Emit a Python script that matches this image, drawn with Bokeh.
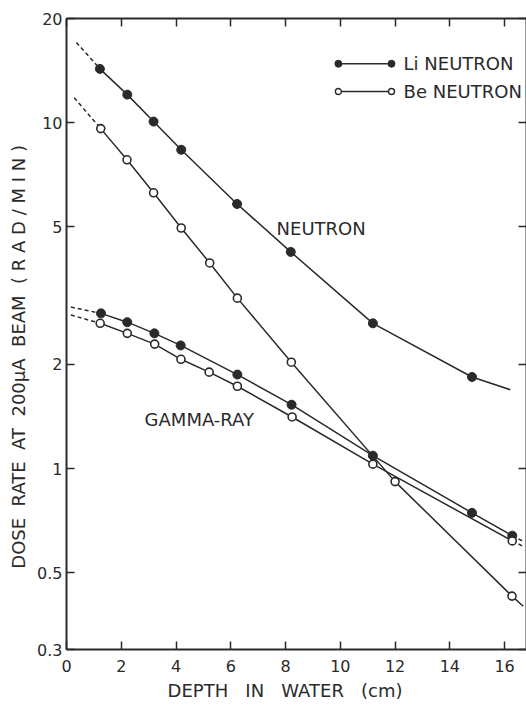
from bokeh.plotting import figure
from bokeh.models import Range1d, FixedTicker, LinearAxis, LogAxis, CustomJSTickFormatter, Label
from bokeh.embed import file_html
from bokeh.resources import INLINE

# ---- data (depth in cm, dose rate in rad/min) ----
li_n_x = [1.22, 2.22, 3.18, 4.19, 6.23, 8.19, 11.19, 14.81]
li_n_y = [14.3, 12.05, 10.07, 8.35, 5.82, 4.23, 2.63, 1.84]
li_n_head_x = [0.36, 1.22]
li_n_head_y = [17.06, 14.3]
li_n_tail_x = [14.81, 16.21]
li_n_tail_y = [1.84, 1.69]

be_n_x = [1.25, 2.21, 3.18, 4.19, 5.23, 6.24, 8.21, 12.0, 16.27]
be_n_y = [9.61, 7.81, 6.27, 4.96, 3.93, 3.11, 2.03, 0.917, 0.428]
be_n_head_x = [0.28, 1.25]
be_n_head_y = [11.8, 9.61]
be_n_tail_x = [16.27, 16.68]
be_n_tail_y = [0.428, 0.40]

li_g_x = [1.26, 2.22, 3.21, 4.17, 6.24, 8.22, 11.19, 14.81, 16.28]
li_g_y = [2.81, 2.65, 2.46, 2.27, 1.87, 1.53, 1.09, 0.745, 0.64]
li_g_head_x = [0.16, 1.26]
li_g_head_y = [2.93, 2.81]
li_g_tail_x = [16.28, 16.7]
li_g_tail_y = [0.64, 0.615]

be_g_x = [1.23, 2.22, 3.22, 4.18, 5.21, 6.24, 8.24, 11.19, 16.28]
be_g_y = [2.63, 2.46, 2.29, 2.07, 1.90, 1.73, 1.41, 1.03, 0.618]
be_g_head_x = [0.16, 1.23]
be_g_head_y = [2.78, 2.63]
be_g_tail_x = [16.28, 16.7]
be_g_tail_y = [0.618, 0.595]

x_ticks = [0, 2, 4, 6, 8, 10, 12, 14, 16]
y_ticks = [0.3, 0.5, 1, 2, 5, 10, 20]

INK = "#2a2a2a"
FONT = "DejaVu Sans"
NB = "\u00a0"

x_title = (NB * 3).join(["DEPTH", "IN", "WATER", "(cm)"]) + NB * 4
y_title = (NB * 2).join(["DOSE", "RATE", "AT", "200\u03bcA", "BEAM",
                         NB.join(["(", "R", "A", "D", "/", "M", "I", "N", ")"])]) + NB * 8

p = figure(width=526, height=706, x_range=Range1d(0, 16.8), y_range=Range1d(0.3, 20),
           y_axis_type="log", output_backend="svg", toolbar_location=None,
           min_border_left=66, min_border_right=0, min_border_top=18, min_border_bottom=57,
           background_fill_color="white", border_fill_color="white")
p.grid.visible = False
p.outline_line_color = None

def style_axis(ax):
    ax.axis_line_color = INK
    ax.axis_line_width = 2
    ax.major_tick_line_color = INK
    ax.major_tick_line_width = 1.5
    ax.major_tick_in = 8
    ax.major_tick_out = 0
    ax.minor_tick_line_color = None
    ax.major_label_text_color = INK
    ax.major_label_text_font = FONT
    ax.axis_label_text_color = INK
    ax.axis_label_text_font = FONT
    ax.axis_label_text_font_style = "normal"

xa = p.xaxis[0]
xa.ticker = FixedTicker(ticks=x_ticks, minor_ticks=[])
style_axis(xa)
xa.major_label_text_font_size = "16px"
xa.major_label_standoff = 10
xa.axis_label = x_title
xa.axis_label_text_font_size = "18px"
xa.axis_label_standoff = 5

ya = p.yaxis[0]
ya.ticker = FixedTicker(ticks=y_ticks, minor_ticks=[])
ya.formatter = CustomJSTickFormatter(code="return String(Math.round(tick*10)/10)")
style_axis(ya)
ya.major_label_text_font_size = "16px"
ya.major_label_standoff = 4
ya.axis_label = y_title
ya.axis_label_text_font_size = "18px"
ya.axis_label_standoff = 5

top = LinearAxis(ticker=FixedTicker(ticks=x_ticks, minor_ticks=[]))
style_axis(top)
top.major_label_overrides = {t: "" for t in x_ticks}
top.major_label_text_font_size = "1px"
top.major_label_standoff = 0
p.add_layout(top, "above")

right = LogAxis(ticker=FixedTicker(ticks=y_ticks, minor_ticks=[]))
style_axis(right)
right.formatter = CustomJSTickFormatter(code="return ''")
right.major_label_text_font_size = "1px"
right.major_label_standoff = 0
p.add_layout(right, "right")

LW = 1.5
DASH = "4 3"

def series(x, y, hx, hy, tx, ty, filled, tail_dash):
    p.line(hx, hy, line_color=INK, line_width=LW, line_dash=DASH)
    p.line(x, y, line_color=INK, line_width=LW)
    if tail_dash:
        p.line(tx, ty, line_color=INK, line_width=LW, line_dash=DASH)
    else:
        p.line(tx, ty, line_color=INK, line_width=LW)
    if filled:
        p.scatter(x, y, size=9, fill_color=INK, line_color=INK, line_width=1)
    else:
        p.scatter(x, y, size=8, fill_color="white", line_color=INK, line_width=1.6)

series(li_n_x, li_n_y, li_n_head_x, li_n_head_y, li_n_tail_x, li_n_tail_y, True, False)
series(be_n_x, be_n_y, be_n_head_x, be_n_head_y, be_n_tail_x, be_n_tail_y, False, False)
series(li_g_x, li_g_y, li_g_head_x, li_g_head_y, li_g_tail_x, li_g_tail_y, True, True)
series(be_g_x, be_g_y, be_g_head_x, be_g_head_y, be_g_tail_x, be_g_tail_y, False, True)

# curve labels
p.add_layout(Label(x=9.3, y=4.93, text="NEUTRON", text_font=FONT, text_font_size="18px",
                   text_color=INK, text_align="center", text_baseline="middle"))
p.add_layout(Label(x=4.85, y=1.39, text="GAMMA-RAY", text_font=FONT, text_font_size="18px",
                   text_color=INK, text_align="center", text_baseline="middle"))

# legend (layout positions)
leg_x = [9.93, 11.87]
leg_rows = [(14.8, "Li NEUTRON", True), (12.3, "Be NEUTRON", False)]
for ly, txt, filled in leg_rows:
    p.line(leg_x, [ly, ly], line_color=INK, line_width=1.4)
    if filled:
        p.scatter(leg_x, [ly, ly], size=7, fill_color=INK, line_color=INK)
    else:
        p.scatter(leg_x, [ly, ly], size=6, fill_color="white", line_color=INK, line_width=1.4)
    p.add_layout(Label(x=12.31, y=ly, text=txt, text_font=FONT, text_font_size="18px",
                       text_color=INK, text_align="left", text_baseline="middle"))

open("out.html", "w").write(file_html(p, INLINE))
